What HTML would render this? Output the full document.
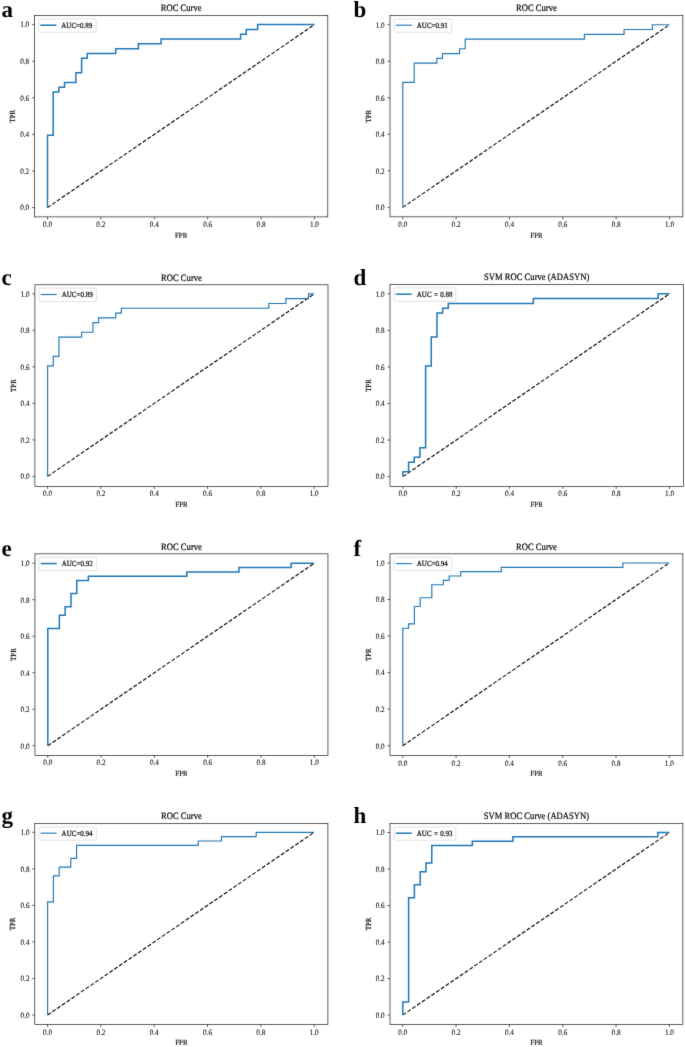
<!DOCTYPE html>
<html><head><meta charset="utf-8"><title>ROC Curves</title>
<style>
html,body{margin:0;padding:0;background:#fff;}
body{width:685px;height:1047px;overflow:hidden;}
svg{display:block;}
#w{will-change:transform;}
text{font-family:"Liberation Serif",serif;fill:#000;stroke:#000;stroke-width:0.18px;text-rendering:geometricPrecision;}
.pl{stroke:none;}
.tl{font-size:7.22px;stroke-width:0.06px;}
.al{font-size:6.9px;stroke-width:0.14px;}
.ti{font-size:8.6px;}
.lg{font-size:7.0px;word-spacing:0.6px;}
.pl{font-size:23px;font-weight:bold;fill:#000;}
.tk{stroke:#000;stroke-width:0.6;}
.sp{fill:none;stroke:#000;stroke-width:0.62;}
.dg{stroke:#000;stroke-width:1.1;stroke-dasharray:3.95 1.825;}
</style></head>
<body>
<div id="w"><svg width="685" height="1047" viewBox="0 0 685 1047">
<defs><filter id="bl" x="0" y="0" width="685" height="1047" filterUnits="userSpaceOnUse" color-interpolation-filters="sRGB"><feConvolveMatrix order="3" kernelMatrix="0.0081 0.0738 0.0081 0.0738 0.6724 0.0738 0.0081 0.0738 0.0081" divisor="1" edgeMode="duplicate" preserveAlpha="true"/></filter></defs>
<rect width="685" height="1047" fill="#fff"/>
<g filter="url(#bl)">
<rect width="685" height="1047" fill="#fff"/>
<line x1="47.5" y1="216.9" x2="47.5" y2="219.5" class="tk"/>
<line x1="31.9" y1="207.6" x2="34.5" y2="207.6" class="tk"/>
<text transform="translate(47.5,226.95) scale(1,1.13)" class="tl" text-anchor="middle">0.0</text>
<text transform="translate(29.2,210.4) scale(1,1.13)" class="tl" text-anchor="end">0.0</text>
<line x1="100.89" y1="216.9" x2="100.89" y2="219.5" class="tk"/>
<line x1="31.9" y1="171" x2="34.5" y2="171" class="tk"/>
<text transform="translate(100.89,226.95) scale(1,1.13)" class="tl" text-anchor="middle">0.2</text>
<text transform="translate(29.2,173.8) scale(1,1.13)" class="tl" text-anchor="end">0.2</text>
<line x1="154.28" y1="216.9" x2="154.28" y2="219.5" class="tk"/>
<line x1="31.9" y1="134.4" x2="34.5" y2="134.4" class="tk"/>
<text transform="translate(154.28,226.95) scale(1,1.13)" class="tl" text-anchor="middle">0.4</text>
<text transform="translate(29.2,137.2) scale(1,1.13)" class="tl" text-anchor="end">0.4</text>
<line x1="207.67" y1="216.9" x2="207.67" y2="219.5" class="tk"/>
<line x1="31.9" y1="97.8" x2="34.5" y2="97.8" class="tk"/>
<text transform="translate(207.67,226.95) scale(1,1.13)" class="tl" text-anchor="middle">0.6</text>
<text transform="translate(29.2,100.6) scale(1,1.13)" class="tl" text-anchor="end">0.6</text>
<line x1="261.06" y1="216.9" x2="261.06" y2="219.5" class="tk"/>
<line x1="31.9" y1="61.2" x2="34.5" y2="61.2" class="tk"/>
<text transform="translate(261.06,226.95) scale(1,1.13)" class="tl" text-anchor="middle">0.8</text>
<text transform="translate(29.2,64) scale(1,1.13)" class="tl" text-anchor="end">0.8</text>
<line x1="314.45" y1="216.9" x2="314.45" y2="219.5" class="tk"/>
<line x1="31.9" y1="24.6" x2="34.5" y2="24.6" class="tk"/>
<text transform="translate(314.45,226.95) scale(1,1.13)" class="tl" text-anchor="middle">1.0</text>
<text transform="translate(29.2,27.4) scale(1,1.13)" class="tl" text-anchor="end">1.0</text>
<text transform="translate(181.15,237.55) scale(1,1.13)" class="al" text-anchor="middle">FPR</text>
<text transform="translate(15.1,116.2) rotate(-90) scale(1,1.13)" class="al" text-anchor="middle">TPR</text>
<text transform="translate(181.15,11.35) scale(1,1.13)" class="ti" text-anchor="middle">ROC Curve</text>
<line x1="47.5" y1="207.6" x2="314.45" y2="24.6" class="dg"/>
<path d="M47.5,207.6 L47.5,135.36 L53.18,135.36 L53.18,92.02 L58.86,92.02 L58.86,87.21 L64.54,87.21 L64.54,82.39 L75.9,82.39 L75.9,72.76 L81.58,72.76 L81.58,58.31 L87.26,58.31 L87.26,53.49 L115.66,53.49 L115.66,48.68 L138.38,48.68 L138.38,43.86 L161.1,43.86 L161.1,39.05 L240.61,39.05 L240.61,34.23 L246.29,34.23 L246.29,29.42 L257.65,29.42 L257.65,24.6 L314.45,24.6" fill="none" stroke="#1f77b4" stroke-width="1.5" stroke-linejoin="miter" stroke-linecap="butt"/>
<rect x="38.5" y="18.9" width="57.7" height="13.4" rx="1.6" fill="#fff" fill-opacity="0.8" stroke="#d6d6d6" stroke-width="0.7"/>
<line x1="40.3" y1="25.2" x2="56.3" y2="25.2" stroke="#1f77b4" stroke-width="1.5"/>
<text transform="translate(61.3,27.9) scale(1,1.13)" class="lg" text-anchor="start">AUC=0.89</text>
<rect x="34.5" y="15.5" width="293.3" height="201.4" class="sp"/>
<text x="1.6" y="16.6" class="pl">a</text>
<line x1="402.8" y1="216.85" x2="402.8" y2="219.45" class="tk"/>
<line x1="387.4" y1="207.4" x2="390" y2="207.4" class="tk"/>
<text transform="translate(402.8,226.9) scale(1,1.13)" class="tl" text-anchor="middle">0.0</text>
<text transform="translate(384.7,210.2) scale(1,1.13)" class="tl" text-anchor="end">0.0</text>
<line x1="456.14" y1="216.85" x2="456.14" y2="219.45" class="tk"/>
<line x1="387.4" y1="170.86" x2="390" y2="170.86" class="tk"/>
<text transform="translate(456.14,226.9) scale(1,1.13)" class="tl" text-anchor="middle">0.2</text>
<text transform="translate(384.7,173.66) scale(1,1.13)" class="tl" text-anchor="end">0.2</text>
<line x1="509.48" y1="216.85" x2="509.48" y2="219.45" class="tk"/>
<line x1="387.4" y1="134.32" x2="390" y2="134.32" class="tk"/>
<text transform="translate(509.48,226.9) scale(1,1.13)" class="tl" text-anchor="middle">0.4</text>
<text transform="translate(384.7,137.12) scale(1,1.13)" class="tl" text-anchor="end">0.4</text>
<line x1="562.82" y1="216.85" x2="562.82" y2="219.45" class="tk"/>
<line x1="387.4" y1="97.78" x2="390" y2="97.78" class="tk"/>
<text transform="translate(562.82,226.9) scale(1,1.13)" class="tl" text-anchor="middle">0.6</text>
<text transform="translate(384.7,100.58) scale(1,1.13)" class="tl" text-anchor="end">0.6</text>
<line x1="616.16" y1="216.85" x2="616.16" y2="219.45" class="tk"/>
<line x1="387.4" y1="61.24" x2="390" y2="61.24" class="tk"/>
<text transform="translate(616.16,226.9) scale(1,1.13)" class="tl" text-anchor="middle">0.8</text>
<text transform="translate(384.7,64.04) scale(1,1.13)" class="tl" text-anchor="end">0.8</text>
<line x1="669.5" y1="216.85" x2="669.5" y2="219.45" class="tk"/>
<line x1="387.4" y1="24.7" x2="390" y2="24.7" class="tk"/>
<text transform="translate(669.5,226.9) scale(1,1.13)" class="tl" text-anchor="middle">1.0</text>
<text transform="translate(384.7,27.5) scale(1,1.13)" class="tl" text-anchor="end">1.0</text>
<text transform="translate(536.42,237.5) scale(1,1.13)" class="al" text-anchor="middle">FPR</text>
<text transform="translate(370.6,116.17) rotate(-90) scale(1,1.13)" class="al" text-anchor="middle">TPR</text>
<text transform="translate(536.42,11.35) scale(1,1.13)" class="ti" text-anchor="middle">ROC Curve</text>
<line x1="402.8" y1="207.4" x2="669.5" y2="24.7" class="dg"/>
<path d="M402.8,207.4 L402.8,82.39 L414.15,82.39 L414.15,63.16 L436.85,63.16 L436.85,58.36 L442.52,58.36 L442.52,53.55 L459.54,53.55 L459.54,48.74 L465.22,48.74 L465.22,39.12 L584.38,39.12 L584.38,34.32 L624.1,34.32 L624.1,29.51 L652.48,29.51 L652.48,24.7 L669.5,24.7" fill="none" stroke="#1f77b4" stroke-width="1.15" stroke-linejoin="miter" stroke-linecap="butt"/>
<rect x="394" y="18.9" width="57.7" height="13.4" rx="1.6" fill="#fff" fill-opacity="0.8" stroke="#d6d6d6" stroke-width="0.7"/>
<line x1="395.8" y1="25.2" x2="411.8" y2="25.2" stroke="#1f77b4" stroke-width="1.15"/>
<text transform="translate(416.8,27.9) scale(1,1.13)" class="lg" text-anchor="start">AUC=0.91</text>
<rect x="390" y="15.5" width="292.85" height="201.35" class="sp"/>
<text x="353.6" y="16.8" class="pl">b</text>
<line x1="47.6" y1="486.4" x2="47.6" y2="489" class="tk"/>
<line x1="32.3" y1="476.4" x2="34.9" y2="476.4" class="tk"/>
<text transform="translate(47.6,496.45) scale(1,1.13)" class="tl" text-anchor="middle">0.0</text>
<text transform="translate(29.6,479.2) scale(1,1.13)" class="tl" text-anchor="end">0.0</text>
<line x1="100.92" y1="486.4" x2="100.92" y2="489" class="tk"/>
<line x1="32.3" y1="439.89" x2="34.9" y2="439.89" class="tk"/>
<text transform="translate(100.92,496.45) scale(1,1.13)" class="tl" text-anchor="middle">0.2</text>
<text transform="translate(29.6,442.69) scale(1,1.13)" class="tl" text-anchor="end">0.2</text>
<line x1="154.24" y1="486.4" x2="154.24" y2="489" class="tk"/>
<line x1="32.3" y1="403.38" x2="34.9" y2="403.38" class="tk"/>
<text transform="translate(154.24,496.45) scale(1,1.13)" class="tl" text-anchor="middle">0.4</text>
<text transform="translate(29.6,406.18) scale(1,1.13)" class="tl" text-anchor="end">0.4</text>
<line x1="207.56" y1="486.4" x2="207.56" y2="489" class="tk"/>
<line x1="32.3" y1="366.87" x2="34.9" y2="366.87" class="tk"/>
<text transform="translate(207.56,496.45) scale(1,1.13)" class="tl" text-anchor="middle">0.6</text>
<text transform="translate(29.6,369.67) scale(1,1.13)" class="tl" text-anchor="end">0.6</text>
<line x1="260.88" y1="486.4" x2="260.88" y2="489" class="tk"/>
<line x1="32.3" y1="330.36" x2="34.9" y2="330.36" class="tk"/>
<text transform="translate(260.88,496.45) scale(1,1.13)" class="tl" text-anchor="middle">0.8</text>
<text transform="translate(29.6,333.16) scale(1,1.13)" class="tl" text-anchor="end">0.8</text>
<line x1="314.2" y1="486.4" x2="314.2" y2="489" class="tk"/>
<line x1="32.3" y1="293.85" x2="34.9" y2="293.85" class="tk"/>
<text transform="translate(314.2,496.45) scale(1,1.13)" class="tl" text-anchor="middle">1.0</text>
<text transform="translate(29.6,296.65) scale(1,1.13)" class="tl" text-anchor="end">1.0</text>
<text transform="translate(181.45,507.05) scale(1,1.13)" class="al" text-anchor="middle">FPR</text>
<text transform="translate(15.5,385.6) rotate(-90) scale(1,1.13)" class="al" text-anchor="middle">TPR</text>
<text transform="translate(181.45,280.65) scale(1,1.13)" class="ti" text-anchor="middle">ROC Curve</text>
<line x1="47.6" y1="476.4" x2="314.2" y2="293.85" class="dg"/>
<path d="M47.6,476.4 L47.6,365.91 L53.27,365.91 L53.27,356.3 L58.94,356.3 L58.94,337.09 L81.63,337.09 L81.63,332.28 L92.98,332.28 L92.98,322.67 L98.65,322.67 L98.65,317.87 L115.67,317.87 L115.67,313.07 L121.34,313.07 L121.34,308.26 L268.82,308.26 L268.82,303.46 L285.84,303.46 L285.84,298.65 L308.53,298.65 L308.53,293.85 L314.2,293.85" fill="none" stroke="#1f77b4" stroke-width="1.15" stroke-linejoin="miter" stroke-linecap="butt"/>
<rect x="38.9" y="288.2" width="57.7" height="13.4" rx="1.6" fill="#fff" fill-opacity="0.8" stroke="#d6d6d6" stroke-width="0.7"/>
<line x1="40.7" y1="294.5" x2="56.7" y2="294.5" stroke="#1f77b4" stroke-width="1.15"/>
<text transform="translate(61.7,297.2) scale(1,1.13)" class="lg" text-anchor="start">AUC=0.89</text>
<rect x="34.9" y="284.8" width="293.1" height="201.6" class="sp"/>
<text x="1.6" y="284.6" class="pl">c</text>
<line x1="402.9" y1="486.35" x2="402.9" y2="488.95" class="tk"/>
<line x1="387.4" y1="476.6" x2="390" y2="476.6" class="tk"/>
<text transform="translate(402.9,496.4) scale(1,1.13)" class="tl" text-anchor="middle">0.0</text>
<text transform="translate(384.7,479.4) scale(1,1.13)" class="tl" text-anchor="end">0.0</text>
<line x1="456.22" y1="486.35" x2="456.22" y2="488.95" class="tk"/>
<line x1="387.4" y1="440.04" x2="390" y2="440.04" class="tk"/>
<text transform="translate(456.22,496.4) scale(1,1.13)" class="tl" text-anchor="middle">0.2</text>
<text transform="translate(384.7,442.84) scale(1,1.13)" class="tl" text-anchor="end">0.2</text>
<line x1="509.54" y1="486.35" x2="509.54" y2="488.95" class="tk"/>
<line x1="387.4" y1="403.48" x2="390" y2="403.48" class="tk"/>
<text transform="translate(509.54,496.4) scale(1,1.13)" class="tl" text-anchor="middle">0.4</text>
<text transform="translate(384.7,406.28) scale(1,1.13)" class="tl" text-anchor="end">0.4</text>
<line x1="562.86" y1="486.35" x2="562.86" y2="488.95" class="tk"/>
<line x1="387.4" y1="366.92" x2="390" y2="366.92" class="tk"/>
<text transform="translate(562.86,496.4) scale(1,1.13)" class="tl" text-anchor="middle">0.6</text>
<text transform="translate(384.7,369.72) scale(1,1.13)" class="tl" text-anchor="end">0.6</text>
<line x1="616.18" y1="486.35" x2="616.18" y2="488.95" class="tk"/>
<line x1="387.4" y1="330.36" x2="390" y2="330.36" class="tk"/>
<text transform="translate(616.18,496.4) scale(1,1.13)" class="tl" text-anchor="middle">0.8</text>
<text transform="translate(384.7,333.16) scale(1,1.13)" class="tl" text-anchor="end">0.8</text>
<line x1="669.5" y1="486.35" x2="669.5" y2="488.95" class="tk"/>
<line x1="387.4" y1="293.8" x2="390" y2="293.8" class="tk"/>
<text transform="translate(669.5,496.4) scale(1,1.13)" class="tl" text-anchor="middle">1.0</text>
<text transform="translate(384.7,296.6) scale(1,1.13)" class="tl" text-anchor="end">1.0</text>
<text transform="translate(536.65,507) scale(1,1.13)" class="al" text-anchor="middle">FPR</text>
<text transform="translate(370.6,385.43) rotate(-90) scale(1,1.13)" class="al" text-anchor="middle">TPR</text>
<text transform="translate(536.65,280.35) scale(1,1.13)" class="ti" text-anchor="middle">SVM ROC Curve (ADASYN)</text>
<line x1="402.9" y1="476.6" x2="669.5" y2="293.8" class="dg"/>
<path d="M402.9,476.6 L402.9,471.79 L408.57,471.79 L408.57,462.17 L414.24,462.17 L414.24,457.36 L419.92,457.36 L419.92,447.74 L425.59,447.74 L425.59,365.96 L431.26,365.96 L431.26,337.09 L436.93,337.09 L436.93,313.04 L442.61,313.04 L442.61,308.23 L448.28,308.23 L448.28,303.42 L533.36,303.42 L533.36,298.61 L658.16,298.61 L658.16,293.8 L669.5,293.8" fill="none" stroke="#1f77b4" stroke-width="1.5" stroke-linejoin="miter" stroke-linecap="butt"/>
<rect x="394" y="287.9" width="61.8" height="13.4" rx="1.6" fill="#fff" fill-opacity="0.8" stroke="#d6d6d6" stroke-width="0.7"/>
<line x1="395.8" y1="294.2" x2="411.8" y2="294.2" stroke="#1f77b4" stroke-width="1.5"/>
<text transform="translate(416.8,296.9) scale(1,1.13)" class="lg" text-anchor="start">AUC = 0.88</text>
<rect x="390" y="284.5" width="293.3" height="201.85" class="sp"/>
<text x="353.5" y="284.5" class="pl">d</text>
<line x1="47.8" y1="755.35" x2="47.8" y2="757.95" class="tk"/>
<line x1="32.35" y1="745.7" x2="34.95" y2="745.7" class="tk"/>
<text transform="translate(47.8,765.4) scale(1,1.13)" class="tl" text-anchor="middle">0.0</text>
<text transform="translate(29.65,748.5) scale(1,1.13)" class="tl" text-anchor="end">0.0</text>
<line x1="101.1" y1="755.35" x2="101.1" y2="757.95" class="tk"/>
<line x1="32.35" y1="709.2" x2="34.95" y2="709.2" class="tk"/>
<text transform="translate(101.1,765.4) scale(1,1.13)" class="tl" text-anchor="middle">0.2</text>
<text transform="translate(29.65,712) scale(1,1.13)" class="tl" text-anchor="end">0.2</text>
<line x1="154.4" y1="755.35" x2="154.4" y2="757.95" class="tk"/>
<line x1="32.35" y1="672.7" x2="34.95" y2="672.7" class="tk"/>
<text transform="translate(154.4,765.4) scale(1,1.13)" class="tl" text-anchor="middle">0.4</text>
<text transform="translate(29.65,675.5) scale(1,1.13)" class="tl" text-anchor="end">0.4</text>
<line x1="207.7" y1="755.35" x2="207.7" y2="757.95" class="tk"/>
<line x1="32.35" y1="636.2" x2="34.95" y2="636.2" class="tk"/>
<text transform="translate(207.7,765.4) scale(1,1.13)" class="tl" text-anchor="middle">0.6</text>
<text transform="translate(29.65,639) scale(1,1.13)" class="tl" text-anchor="end">0.6</text>
<line x1="261" y1="755.35" x2="261" y2="757.95" class="tk"/>
<line x1="32.35" y1="599.7" x2="34.95" y2="599.7" class="tk"/>
<text transform="translate(261,765.4) scale(1,1.13)" class="tl" text-anchor="middle">0.8</text>
<text transform="translate(29.65,602.5) scale(1,1.13)" class="tl" text-anchor="end">0.8</text>
<line x1="314.3" y1="755.35" x2="314.3" y2="757.95" class="tk"/>
<line x1="32.35" y1="563.2" x2="34.95" y2="563.2" class="tk"/>
<text transform="translate(314.3,765.4) scale(1,1.13)" class="tl" text-anchor="middle">1.0</text>
<text transform="translate(29.65,566) scale(1,1.13)" class="tl" text-anchor="end">1.0</text>
<text transform="translate(181.45,776) scale(1,1.13)" class="al" text-anchor="middle">FPR</text>
<text transform="translate(15.55,654.6) rotate(-90) scale(1,1.13)" class="al" text-anchor="middle">TPR</text>
<text transform="translate(181.45,549.7) scale(1,1.13)" class="ti" text-anchor="middle">ROC Curve</text>
<line x1="47.8" y1="745.7" x2="314.3" y2="563.2" class="dg"/>
<path d="M47.8,745.7 L47.8,628.38 L59.39,628.38 L59.39,615.34 L65.18,615.34 L65.18,606.65 L70.97,606.65 L70.97,593.62 L76.77,593.62 L76.77,580.58 L88.35,580.58 L88.35,576.24 L186.84,576.24 L186.84,571.89 L238.98,571.89 L238.98,567.55 L291.13,567.55 L291.13,563.2 L314.3,563.2" fill="none" stroke="#1f77b4" stroke-width="1.5" stroke-linejoin="miter" stroke-linecap="butt"/>
<rect x="38.95" y="557.25" width="57.7" height="13.4" rx="1.6" fill="#fff" fill-opacity="0.8" stroke="#d6d6d6" stroke-width="0.7"/>
<line x1="40.75" y1="563.55" x2="56.75" y2="563.55" stroke="#1f77b4" stroke-width="1.5"/>
<text transform="translate(61.75,566.25) scale(1,1.13)" class="lg" text-anchor="start">AUC=0.92</text>
<rect x="34.95" y="553.85" width="293" height="201.5" class="sp"/>
<text x="1.6" y="556.1" class="pl">e</text>
<line x1="402.8" y1="755.5" x2="402.8" y2="758.1" class="tk"/>
<line x1="387.4" y1="745.7" x2="390" y2="745.7" class="tk"/>
<text transform="translate(402.8,765.55) scale(1,1.13)" class="tl" text-anchor="middle">0.0</text>
<text transform="translate(384.7,748.5) scale(1,1.13)" class="tl" text-anchor="end">0.0</text>
<line x1="456.1" y1="755.5" x2="456.1" y2="758.1" class="tk"/>
<line x1="387.4" y1="709.15" x2="390" y2="709.15" class="tk"/>
<text transform="translate(456.1,765.55) scale(1,1.13)" class="tl" text-anchor="middle">0.2</text>
<text transform="translate(384.7,711.95) scale(1,1.13)" class="tl" text-anchor="end">0.2</text>
<line x1="509.4" y1="755.5" x2="509.4" y2="758.1" class="tk"/>
<line x1="387.4" y1="672.6" x2="390" y2="672.6" class="tk"/>
<text transform="translate(509.4,765.55) scale(1,1.13)" class="tl" text-anchor="middle">0.4</text>
<text transform="translate(384.7,675.4) scale(1,1.13)" class="tl" text-anchor="end">0.4</text>
<line x1="562.7" y1="755.5" x2="562.7" y2="758.1" class="tk"/>
<line x1="387.4" y1="636.05" x2="390" y2="636.05" class="tk"/>
<text transform="translate(562.7,765.55) scale(1,1.13)" class="tl" text-anchor="middle">0.6</text>
<text transform="translate(384.7,638.85) scale(1,1.13)" class="tl" text-anchor="end">0.6</text>
<line x1="616" y1="755.5" x2="616" y2="758.1" class="tk"/>
<line x1="387.4" y1="599.5" x2="390" y2="599.5" class="tk"/>
<text transform="translate(616,765.55) scale(1,1.13)" class="tl" text-anchor="middle">0.8</text>
<text transform="translate(384.7,602.3) scale(1,1.13)" class="tl" text-anchor="end">0.8</text>
<line x1="669.3" y1="755.5" x2="669.3" y2="758.1" class="tk"/>
<line x1="387.4" y1="562.95" x2="390" y2="562.95" class="tk"/>
<text transform="translate(669.3,765.55) scale(1,1.13)" class="tl" text-anchor="middle">1.0</text>
<text transform="translate(384.7,565.75) scale(1,1.13)" class="tl" text-anchor="end">1.0</text>
<text transform="translate(536.45,776.15) scale(1,1.13)" class="al" text-anchor="middle">FPR</text>
<text transform="translate(370.6,654.67) rotate(-90) scale(1,1.13)" class="al" text-anchor="middle">TPR</text>
<text transform="translate(536.45,549.7) scale(1,1.13)" class="ti" text-anchor="middle">ROC Curve</text>
<line x1="402.8" y1="745.7" x2="669.3" y2="562.95" class="dg"/>
<path d="M402.8,745.7 L402.8,628.22 L408.59,628.22 L408.59,623.87 L414.39,623.87 L414.39,606.46 L420.18,606.46 L420.18,597.76 L431.77,597.76 L431.77,584.71 L443.35,584.71 L443.35,580.35 L449.15,580.35 L449.15,576 L460.73,576 L460.73,571.65 L501.29,571.65 L501.29,567.3 L622.95,567.3 L622.95,562.95 L669.3,562.95" fill="none" stroke="#1f77b4" stroke-width="1.15" stroke-linejoin="miter" stroke-linecap="butt"/>
<rect x="394" y="557.25" width="57.7" height="13.4" rx="1.6" fill="#fff" fill-opacity="0.8" stroke="#d6d6d6" stroke-width="0.7"/>
<line x1="395.8" y1="563.55" x2="411.8" y2="563.55" stroke="#1f77b4" stroke-width="1.15"/>
<text transform="translate(416.8,566.25) scale(1,1.13)" class="lg" text-anchor="start">AUC=0.94</text>
<rect x="390" y="553.85" width="292.9" height="201.65" class="sp"/>
<text x="353.4" y="556.3" class="pl">f</text>
<line x1="47.6" y1="1024.5" x2="47.6" y2="1027.1" class="tk"/>
<line x1="32.2" y1="1015" x2="34.8" y2="1015" class="tk"/>
<text transform="translate(47.6,1034.55) scale(1,1.13)" class="tl" text-anchor="middle">0.0</text>
<text transform="translate(29.5,1017.8) scale(1,1.13)" class="tl" text-anchor="end">0.0</text>
<line x1="100.9" y1="1024.5" x2="100.9" y2="1027.1" class="tk"/>
<line x1="32.2" y1="978.46" x2="34.8" y2="978.46" class="tk"/>
<text transform="translate(100.9,1034.55) scale(1,1.13)" class="tl" text-anchor="middle">0.2</text>
<text transform="translate(29.5,981.26) scale(1,1.13)" class="tl" text-anchor="end">0.2</text>
<line x1="154.2" y1="1024.5" x2="154.2" y2="1027.1" class="tk"/>
<line x1="32.2" y1="941.92" x2="34.8" y2="941.92" class="tk"/>
<text transform="translate(154.2,1034.55) scale(1,1.13)" class="tl" text-anchor="middle">0.4</text>
<text transform="translate(29.5,944.72) scale(1,1.13)" class="tl" text-anchor="end">0.4</text>
<line x1="207.5" y1="1024.5" x2="207.5" y2="1027.1" class="tk"/>
<line x1="32.2" y1="905.38" x2="34.8" y2="905.38" class="tk"/>
<text transform="translate(207.5,1034.55) scale(1,1.13)" class="tl" text-anchor="middle">0.6</text>
<text transform="translate(29.5,908.18) scale(1,1.13)" class="tl" text-anchor="end">0.6</text>
<line x1="260.8" y1="1024.5" x2="260.8" y2="1027.1" class="tk"/>
<line x1="32.2" y1="868.84" x2="34.8" y2="868.84" class="tk"/>
<text transform="translate(260.8,1034.55) scale(1,1.13)" class="tl" text-anchor="middle">0.8</text>
<text transform="translate(29.5,871.64) scale(1,1.13)" class="tl" text-anchor="end">0.8</text>
<line x1="314.1" y1="1024.5" x2="314.1" y2="1027.1" class="tk"/>
<line x1="32.2" y1="832.3" x2="34.8" y2="832.3" class="tk"/>
<text transform="translate(314.1,1034.55) scale(1,1.13)" class="tl" text-anchor="middle">1.0</text>
<text transform="translate(29.5,835.1) scale(1,1.13)" class="tl" text-anchor="end">1.0</text>
<text transform="translate(181.35,1045.15) scale(1,1.13)" class="al" text-anchor="middle">FPR</text>
<text transform="translate(15.4,923.98) rotate(-90) scale(1,1.13)" class="al" text-anchor="middle">TPR</text>
<text transform="translate(181.35,819.3) scale(1,1.13)" class="ti" text-anchor="middle">ROC Curve</text>
<line x1="47.6" y1="1015" x2="314.1" y2="832.3" class="dg"/>
<path d="M47.6,1015 L47.6,901.9 L53.39,901.9 L53.39,875.8 L59.19,875.8 L59.19,867.1 L70.77,867.1 L70.77,858.4 L76.57,858.4 L76.57,845.35 L198.23,845.35 L198.23,841 L221.4,841 L221.4,836.65 L256.17,836.65 L256.17,832.3 L314.1,832.3" fill="none" stroke="#1f77b4" stroke-width="1.15" stroke-linejoin="miter" stroke-linecap="butt"/>
<rect x="38.8" y="826.85" width="57.7" height="13.4" rx="1.6" fill="#fff" fill-opacity="0.8" stroke="#d6d6d6" stroke-width="0.7"/>
<line x1="40.6" y1="833.15" x2="56.6" y2="833.15" stroke="#1f77b4" stroke-width="1.15"/>
<text transform="translate(61.6,835.85) scale(1,1.13)" class="lg" text-anchor="start">AUC=0.94</text>
<rect x="34.8" y="823.45" width="293.1" height="201.05" class="sp"/>
<text x="1.6" y="823.0" class="pl">g</text>
<line x1="402.8" y1="1024.45" x2="402.8" y2="1027.05" class="tk"/>
<line x1="387.4" y1="1015.1" x2="390" y2="1015.1" class="tk"/>
<text transform="translate(402.8,1034.5) scale(1,1.13)" class="tl" text-anchor="middle">0.0</text>
<text transform="translate(384.7,1017.9) scale(1,1.13)" class="tl" text-anchor="end">0.0</text>
<line x1="456.12" y1="1024.45" x2="456.12" y2="1027.05" class="tk"/>
<line x1="387.4" y1="978.58" x2="390" y2="978.58" class="tk"/>
<text transform="translate(456.12,1034.5) scale(1,1.13)" class="tl" text-anchor="middle">0.2</text>
<text transform="translate(384.7,981.38) scale(1,1.13)" class="tl" text-anchor="end">0.2</text>
<line x1="509.44" y1="1024.45" x2="509.44" y2="1027.05" class="tk"/>
<line x1="387.4" y1="942.06" x2="390" y2="942.06" class="tk"/>
<text transform="translate(509.44,1034.5) scale(1,1.13)" class="tl" text-anchor="middle">0.4</text>
<text transform="translate(384.7,944.86) scale(1,1.13)" class="tl" text-anchor="end">0.4</text>
<line x1="562.76" y1="1024.45" x2="562.76" y2="1027.05" class="tk"/>
<line x1="387.4" y1="905.54" x2="390" y2="905.54" class="tk"/>
<text transform="translate(562.76,1034.5) scale(1,1.13)" class="tl" text-anchor="middle">0.6</text>
<text transform="translate(384.7,908.34) scale(1,1.13)" class="tl" text-anchor="end">0.6</text>
<line x1="616.08" y1="1024.45" x2="616.08" y2="1027.05" class="tk"/>
<line x1="387.4" y1="869.02" x2="390" y2="869.02" class="tk"/>
<text transform="translate(616.08,1034.5) scale(1,1.13)" class="tl" text-anchor="middle">0.8</text>
<text transform="translate(384.7,871.82) scale(1,1.13)" class="tl" text-anchor="end">0.8</text>
<line x1="669.4" y1="1024.45" x2="669.4" y2="1027.05" class="tk"/>
<line x1="387.4" y1="832.5" x2="390" y2="832.5" class="tk"/>
<text transform="translate(669.4,1034.5) scale(1,1.13)" class="tl" text-anchor="middle">1.0</text>
<text transform="translate(384.7,835.3) scale(1,1.13)" class="tl" text-anchor="end">1.0</text>
<text transform="translate(536.42,1045.1) scale(1,1.13)" class="al" text-anchor="middle">FPR</text>
<text transform="translate(370.6,923.98) rotate(-90) scale(1,1.13)" class="al" text-anchor="middle">TPR</text>
<text transform="translate(536.42,819.35) scale(1,1.13)" class="ti" text-anchor="middle">SVM ROC Curve (ADASYN)</text>
<line x1="402.8" y1="1015.1" x2="669.4" y2="832.5" class="dg"/>
<path d="M402.8,1015.1 L402.8,1002.06 L408.6,1002.06 L408.6,897.71 L414.39,897.71 L414.39,884.67 L420.19,884.67 L420.19,871.63 L425.98,871.63 L425.98,862.93 L431.78,862.93 L431.78,845.54 L472.35,845.54 L472.35,841.2 L512.92,841.2 L512.92,836.85 L657.81,836.85 L657.81,832.5 L669.4,832.5" fill="none" stroke="#1f77b4" stroke-width="1.5" stroke-linejoin="miter" stroke-linecap="butt"/>
<rect x="394" y="826.9" width="61.8" height="13.4" rx="1.6" fill="#fff" fill-opacity="0.8" stroke="#d6d6d6" stroke-width="0.7"/>
<line x1="395.8" y1="833.2" x2="411.8" y2="833.2" stroke="#1f77b4" stroke-width="1.5"/>
<text transform="translate(416.8,835.9) scale(1,1.13)" class="lg" text-anchor="start">AUC = 0.93</text>
<rect x="390" y="823.5" width="292.85" height="200.95" class="sp"/>
<text x="353.6" y="823.1" class="pl">h</text>
</g>
</svg></div>
</body></html>
